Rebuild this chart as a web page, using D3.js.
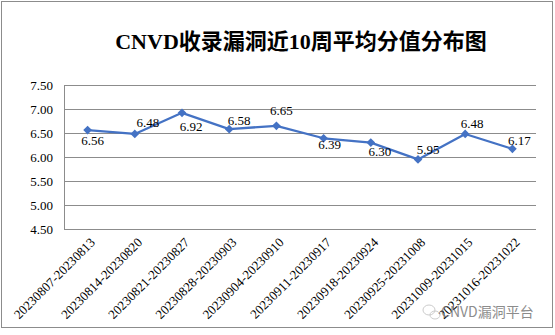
<!DOCTYPE html>
<html>
<head>
<meta charset="utf-8">
<script src="https://cdn.jsdelivr.net/npm/d3@7"></script>
<style>
  body { margin: 0; background: #fff; }
  svg { display: block; }
</style>
</head>
<body>
<svg width="555" height="335"></svg>
<script>
// données
const weeks = [
    "20230807-20230813", "20230814-20230820", "20230821-20230827", "20230828-20230903",
    "20230904-20230910", "20230911-20230917", "20230918-20230924", "20230925-20231008",
    "20231009-20231015", "20231016-20231022"
];
const scores = [6.56, 6.48, 6.92, 6.58, 6.65, 6.39, 6.30, 5.95, 6.48, 6.17];
const yTicks = [4.5, 5.0, 5.5, 6.0, 6.5, 7.0, 7.5];

// décalage des étiquettes (dx, dy de la ligne de base)
const labelOffsets = [
    [5, 15], [13, -7], [9, 18], [10, -4], [5, -11],
    [6, 11], [9, 13], [10, -5], [7, -6], [7, -4]
];

const margin = { top: 85, left: 64, right: 19, bottom: 106 };
const width = 555, height = 335;

const svg = d3.select("svg");

// cadre extérieur
svg.append("rect")
    .attr("x", 1.5).attr("y", 1.5)
    .attr("width", 551).attr("height", 326)
    .attr("fill", "#fff")
    .attr("stroke", "#8c8c8c");

// titre
svg.append("text")
    .attr("x", 301).attr("y", 49)
    .attr("text-anchor", "middle")
    .style("font-family", "'Liberation Serif', 'Noto Sans CJK SC', serif")
    .style("font-weight", "bold")
    .style("font-size", "22px")
    .text("CNVD收录漏洞近10周平均分值分布图");

const x = d3.scaleBand()
    .domain(weeks)
    .range([margin.left, width - margin.right]);

const y = d3.scaleLinear()
    .domain([4.5, 7.5])
    .range([height - margin.bottom, margin.top]);

// grille
svg.append("g")
    .selectAll("line")
    .data(yTicks)
    .enter().append("line")
    .attr("x1", margin.left).attr("x2", width - margin.right)
    .attr("y1", d => Math.round(y(d)) + 0.5)
    .attr("y2", d => Math.round(y(d)) + 0.5)
    .attr("stroke", "#8c8c8c");

// axe vertical
svg.append("line")
    .attr("x1", margin.left + 0.5).attr("x2", margin.left + 0.5)
    .attr("y1", y(7.5)).attr("y2", y(4.5) + 0.5)
    .attr("stroke", "#8c8c8c");

// étiquettes Y
svg.append("g")
    .selectAll("text")
    .data(yTicks)
    .enter().append("text")
    .attr("x", margin.left - 11)
    .attr("y", d => y(d))
    .attr("dy", "0.35em")
    .attr("text-anchor", "end")
    .style("font-family", "'Liberation Serif', serif")
    .style("font-size", "13px")
    .text(d => d.toFixed(2));

// étiquettes X
svg.append("g")
    .selectAll("text")
    .data(weeks)
    .enter().append("text")
    .attr("transform", d => "translate(" + (x(d) + x.bandwidth() / 2 + 5) + "," + (y(4.5) + 11) + ") rotate(-45)")
    .attr("text-anchor", "end")
    .attr("dy", "0.35em")
    .style("font-family", "'Liberation Serif', serif")
    .style("font-size", "13px")
    .text(d => d);

const cx = (d, i) => x(weeks[i]) + x.bandwidth() / 2;

// ligne
const line = d3.line()
    .x((d, i) => cx(d, i))
    .y(d => y(d));

svg.append("path")
    .datum(scores)
    .attr("d", line)
    .attr("fill", "none")
    .attr("stroke", "#4472c4")
    .attr("stroke-width", 2.25)
    .attr("stroke-linejoin", "round");

// marqueurs
svg.append("g")
    .selectAll("path")
    .data(scores)
    .enter().append("path")
    .attr("d", d3.symbol().type(d3.symbolDiamond2).size(48))
    .attr("transform", (d, i) => "translate(" + cx(d, i) + "," + y(d) + ")")
    .attr("fill", "#4472c4");

// étiquettes de données
svg.append("g")
    .selectAll("text")
    .data(scores)
    .enter().append("text")
    .attr("x", (d, i) => cx(d, i) + labelOffsets[i][0])
    .attr("y", (d, i) => y(d) + labelOffsets[i][1])
    .attr("text-anchor", "middle")
    .style("font-family", "'Liberation Serif', serif")
    .style("font-size", "13px")
    .text(d => d.toFixed(2));

// filigrane
const wm = svg.append("g").attr("opacity", 0.75);
wm.append("ellipse").attr("cx", 429).attr("cy", 310).attr("rx", 6).attr("ry", 5)
    .attr("fill", "none").attr("stroke", "#bbb").attr("stroke-width", 1);
wm.append("ellipse").attr("cx", 435).attr("cy", 315).attr("rx", 5).attr("ry", 4)
    .attr("fill", "none").attr("stroke", "#bbb").attr("stroke-width", 1);
wm.append("text")
    .attr("x", 441).attr("y", 317)
    .style("font-family", "'Noto Sans CJK SC', sans-serif")
    .style("font-size", "14px")
    .attr("fill", "#666")
    .text("CNVD漏洞平台");
</script>
</body>
</html>
